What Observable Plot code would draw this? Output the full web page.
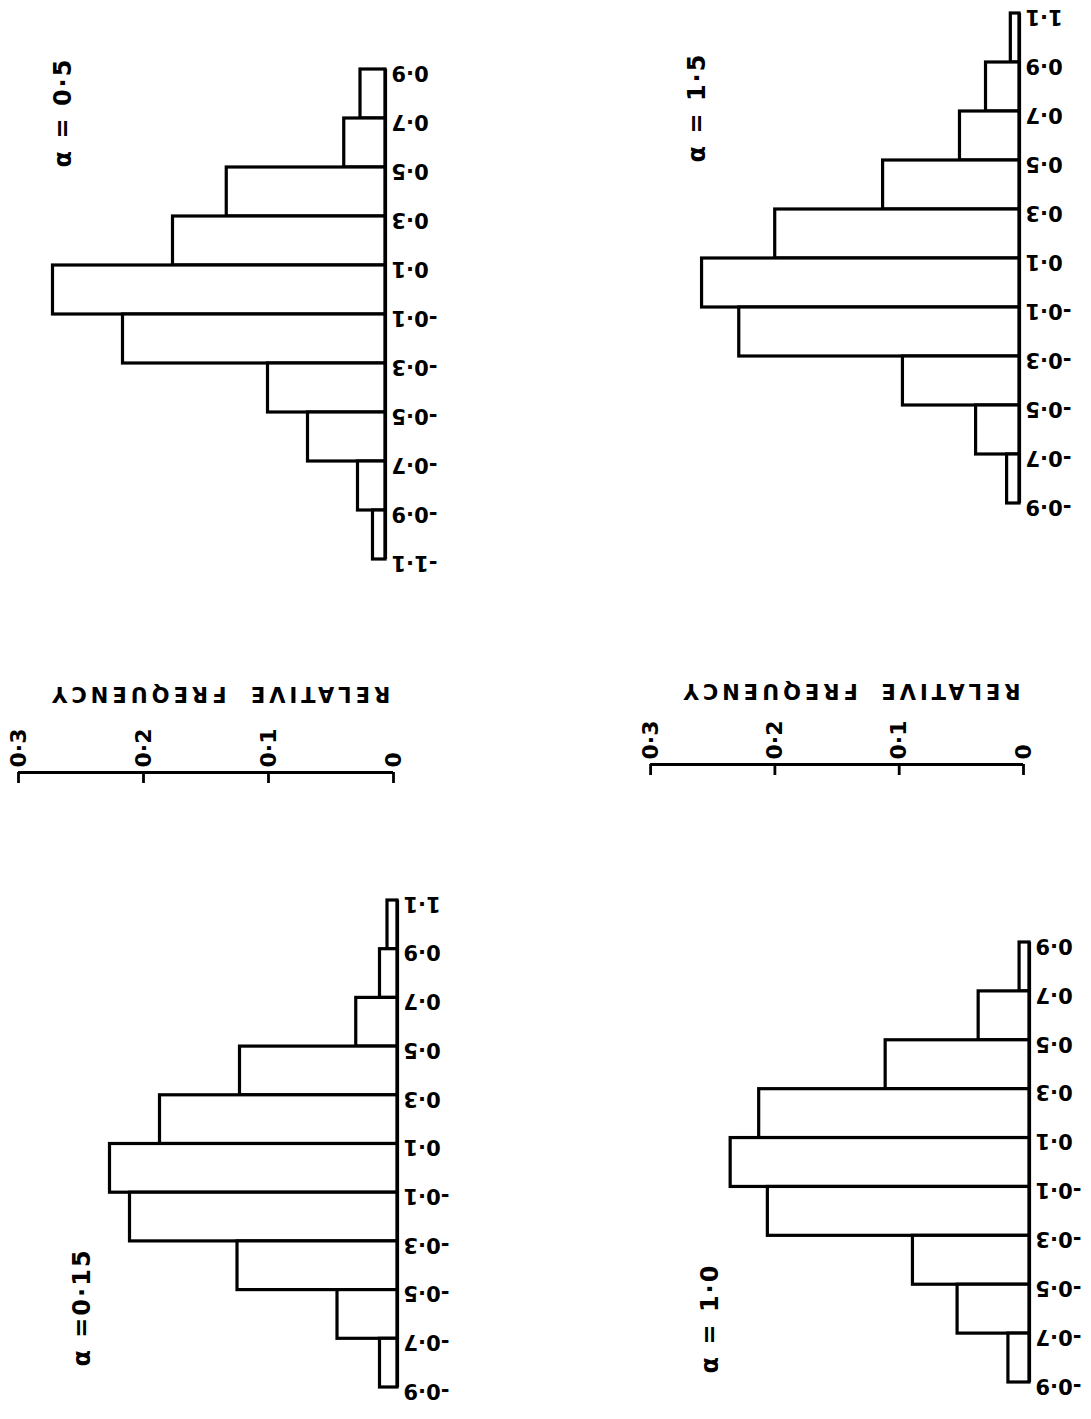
<!DOCTYPE html>
<html>
<head>
<meta charset="utf-8">
<script src="https://cdn.jsdelivr.net/npm/d3@7"></script>
<script src="https://cdn.jsdelivr.net/npm/@observablehq/plot@0.6"></script>
<style>
html, body { margin: 0; padding: 0; background: #fff; overflow: hidden; }
#fig { position: relative; width: 1091px; height: 1419px; overflow: hidden; background: #fff; }
#fig svg { position: absolute; left: 0; top: 0; }
</style>
</head>
<body>
<div id="fig"></div>
<script>
// ---- data ----
const edgesTL = [0.9, 0.7, 0.5, 0.3, 0.1, -0.1, -0.3, -0.5, -0.7, -0.9, -1.1];
const freqTL  = [0.020, 0.033, 0.127, 0.170, 0.266, 0.210, 0.094, 0.062, 0.022, 0.010];

const edgesTR = [1.1, 0.9, 0.7, 0.5, 0.3, 0.1, -0.1, -0.3, -0.5, -0.7, -0.9];
const freqTR  = [0.007, 0.027, 0.048, 0.110, 0.197, 0.256, 0.226, 0.094, 0.035, 0.010];

const edgesBL = [1.1, 0.9, 0.7, 0.5, 0.3, 0.1, -0.1, -0.3, -0.5, -0.7, -0.9];
const freqBL  = [0.008, 0.014, 0.033, 0.126, 0.190, 0.230, 0.214, 0.128, 0.048, 0.014];

const edgesBR = [0.9, 0.7, 0.5, 0.3, 0.1, -0.1, -0.3, -0.5, -0.7, -0.9];
const freqBR  = [0.008, 0.041, 0.116, 0.218, 0.241, 0.211, 0.094, 0.058, 0.017];

const alphaLabels = ["α = 0·5", "α = 1·5", "α =0·15", "α = 1·0"];
const freqTicks = [0, 0.1, 0.2, 0.3];
const freqTickLabels = ["0", "0·1", "0·2", "0·3"];
const axisTitleWords = ["RELATIVE", "FREQUENCY"];

// ---- layout ----
const W = 1091, H = 1419;
const FONT = "DejaVu Sans";
const fmt = v => (v < 0 ? "-" : "") + Math.abs(v).toFixed(1).replace(".", "·");

function panel(edges, freq, title, L) {
  const bins = freq.map((f, i) => ({hi: edges[i], lo: edges[i + 1], f}));
  const first = edges[0], last = edges[edges.length - 1];
  const svg = Plot.plot({
    width: W, height: H, margin: 0,
    style: {background: "transparent", fontFamily: FONT, color: "black"},
    x: {domain: [0, 0.3], range: [L.base, L.base - 0.3 * L.k], axis: null},
    y: {domain: [first, last], range: [L.top, L.bottom], axis: null},
    marks: [
      Plot.rect(bins, {x1: 0, x2: "f", y1: "hi", y2: "lo", fill: "white", stroke: "black", strokeWidth: 3.2}),
      Plot.ruleX([0], {y1: first, y2: last, stroke: "black", strokeWidth: 3.2}),
      Plot.text(edges, {x: 0, y: d => d, text: fmt, rotate: 180, textAnchor: "end",
        dx: 6, dy: 3, fontSize: 21, fontWeight: "bold", fill: "black"}),
      Plot.text([title], {frameAnchor: "top-left", dx: L.tx, dy: L.ty, rotate: -90,
        textAnchor: "middle", fontSize: 24, fontWeight: "bold", fill: "black"})
    ]
  });
  d3.select(svg).selectAll("text").filter(function() { return this.textContent.startsWith("α"); })
    .attr("letter-spacing", 2);
  return svg;
}

function freqAxis(A) {
  const svg = Plot.plot({
    width: W, height: H, margin: 0,
    style: {background: "transparent", fontFamily: FONT, color: "black"},
    x: {domain: [0, 0.3], range: [A.zero, A.zero - 0.3 * A.k], axis: null},
    y: {domain: [0, 1], range: [A.line, A.line + 11], axis: null},
    marks: [
      Plot.ruleY([0], {x1: 0, x2: 0.3, stroke: "black", strokeWidth: 3.2}),
      Plot.ruleX(freqTicks, {x: d => d, y1: 0, y2: 1, stroke: "black", strokeWidth: 2.8}),
      Plot.text(freqTicks, {x: d => d, y: 0, text: (d, i) => freqTickLabels[i], rotate: -90,
        textAnchor: "start", dy: -5, fontSize: 22, fontWeight: "bold", fill: "black"}),
      Plot.text(axisTitleWords, {x: (d, i) => [0.06, 0.205][i], y: 0, dy: A.titleDy, rotate: 180,
        textAnchor: "middle", fontSize: 21, fontWeight: "bold", fill: "black"})
    ]
  });
  d3.select(svg).selectAll("text").filter(function() { return /^[A-Z]+$/.test(this.textContent); })
    .attr("letter-spacing", 4);
  return svg;
}

const fig = document.getElementById("fig");
fig.append(
  panel(edgesTL, freqTL, alphaLabels[0], {base: 385, k: 1250, top: 69, bottom: 559, tx: 53, ty: 112}),
  panel(edgesTR, freqTR, alphaLabels[1], {base: 1019, k: 1240, top: 13, bottom: 503, tx: 687, ty: 107}),
  panel(edgesBL, freqBL, alphaLabels[2], {base: 397, k: 1250, top: 900, bottom: 1387, tx: 72, ty: 1307}),
  panel(edgesBR, freqBR, alphaLabels[3], {base: 1029, k: 1240, top: 942, bottom: 1382, tx: 700, ty: 1318}),
  freqAxis({zero: 393, k: 1250, line: 772, titleDy: -79}),
  freqAxis({zero: 1023, k: 1243, line: 764, titleDy: -74})
);
</script>
</body>
</html>
